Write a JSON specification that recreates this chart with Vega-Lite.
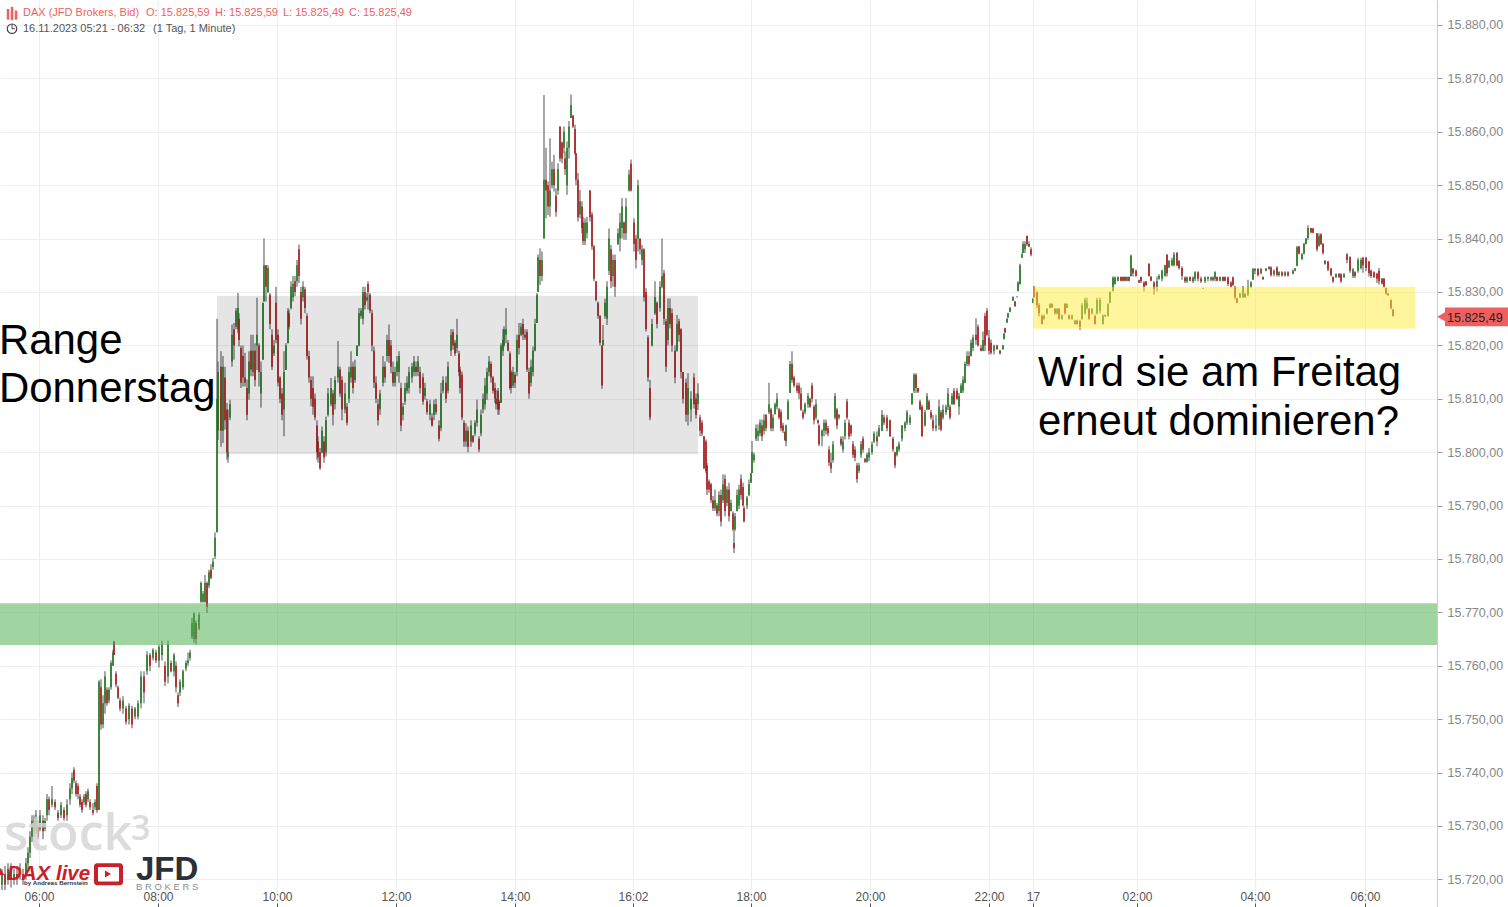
{"$schema":"https://vega.github.io/schema/vega-lite/v6.json","width":1437,"height":907,"padding":{"left":0,"top":0,"right":71,"bottom":0},"autosize":"none","background":"white","config":{"view":{"stroke":null},"font":"Liberation Sans"},
"datasets":{"bars":[
{"i":2,"o":15719,"h":15722,"l":15718,"c":15721},{"i":5,"o":15721,"h":15722.5,"l":15718,"c":15719},{"i":8,"o":15720,"h":15723,"l":15719,"c":15722},{"i":11,"o":15722,"h":15723,"l":15718.5,"c":15720},{"i":14,"o":15720,"h":15722,"l":15719,"c":15721},{"i":17,"o":15721,"h":15722.5,"l":15719,"c":15720},{"i":20,"o":15721,"h":15723,"l":15720,"c":15722},{"i":23,"o":15721,"h":15722,"l":15719,"c":15720},{"i":26,"o":15721,"h":15724,"l":15720,"c":15723},{"i":28,"o":15723,"h":15726,"l":15722,"c":15725},{"i":30,"o":15725,"h":15729,"l":15724,"c":15728},{"i":32,"o":15728,"h":15732,"l":15727,"c":15731},{"i":34,"o":15731,"h":15732,"l":15728,"c":15729},{"i":36,"o":15729,"h":15733,"l":15728.5,"c":15732},{"i":38,"o":15730,"h":15731,"l":15727.5,"c":15728},{"i":40,"o":15729.5,"h":15733,"l":15729,"c":15732},{"i":43,"o":15731,"h":15732,"l":15727.5,"c":15729},{"i":45,"o":15729.5,"h":15731.5,"l":15729,"c":15731},{"i":47,"o":15732,"h":15736,"l":15731,"c":15735},{"i":49,"o":15735,"h":15735.5,"l":15732,"c":15733},{"i":52,"o":15734,"h":15737.5,"l":15733.5,"c":15735},{"i":55,"o":15734.5,"h":15735,"l":15733,"c":15733.5},{"i":58,"o":15732.5,"h":15733,"l":15731,"c":15731.5},{"i":61,"o":15732,"h":15734.5,"l":15731.5,"c":15734},{"i":64,"o":15733,"h":15733.5,"l":15731,"c":15731.5},{"i":67,"o":15732,"h":15735,"l":15731,"c":15734},{"i":70,"o":15735,"h":15738,"l":15734,"c":15737},{"i":72,"o":15737,"h":15740,"l":15736,"c":15739},{"i":74,"o":15740.5,"h":15741,"l":15738,"c":15738.5},{"i":76,"o":15738,"h":15738.5,"l":15735.5,"c":15736},{"i":78,"o":15737.5,"h":15738,"l":15735,"c":15736},{"i":80,"o":15735.5,"h":15736,"l":15733.5,"c":15734},{"i":82,"o":15734.5,"h":15735,"l":15732.5,"c":15733},{"i":84,"o":15734.5,"h":15736,"l":15734,"c":15735.5},{"i":86,"o":15736,"h":15736.5,"l":15733.5,"c":15734},{"i":88,"o":15735,"h":15737,"l":15734.5,"c":15736.5},{"i":90,"o":15734.5,"h":15735,"l":15733,"c":15733.5},{"i":93,"o":15733,"h":15734.3,"l":15732,"c":15732.5},{"i":95,"o":15733.5,"h":15735,"l":15733,"c":15734.5},{"i":97,"o":15737.5,"h":15738,"l":15732.5,"c":15733},{"i":99,"o":15733,"h":15757.3,"l":15733,"c":15757},
{"i":101,"o":15756,"h":15757.5,"l":15748,"c":15749},{"i":103,"o":15749,"h":15754.5,"l":15748.3,"c":15753},{"i":105,"o":15753,"h":15759,"l":15751,"c":15758},{"i":107,"o":15755.5,"h":15756,"l":15752.5,"c":15753},{"i":109,"o":15753.5,"h":15756,"l":15753,"c":15755.5},{"i":111,"o":15756,"h":15761,"l":15755.5,"c":15760.5},{"i":113,"o":15760,"h":15763,"l":15760,"c":15762.5},{"i":114,"o":15764.5,"h":15764.7,"l":15762,"c":15762},{"i":116,"o":15758.5,"h":15759,"l":15756,"c":15756.5},{"i":118,"o":15756,"h":15756.3,"l":15753.8,"c":15754},{"i":120,"o":15753.5,"h":15754,"l":15751.5,"c":15752},{"i":123,"o":15752,"h":15754.3,"l":15751,"c":15753.5},{"i":126,"o":15752,"h":15752.5,"l":15749,"c":15749.5},{"i":129,"o":15750,"h":15753,"l":15749,"c":15752.5},{"i":132,"o":15752,"h":15752.5,"l":15748.3,"c":15749},{"i":135,"o":15750.5,"h":15752.3,"l":15750,"c":15752},{"i":138,"o":15750.5,"h":15753.5,"l":15750,"c":15753},{"i":141,"o":15753,"h":15759,"l":15752,"c":15758},{"i":144,"o":15758,"h":15759,"l":15753,"c":15755},{"i":147,"o":15759,"h":15762.7,"l":15758.3,"c":15762},{"i":150,"o":15762,"h":15762.4,"l":15759,"c":15760},{"i":153,"o":15761.5,"h":15763.3,"l":15761,"c":15763},{"i":156,"o":15762.5,"h":15763,"l":15760.5,"c":15761},{"i":159,"o":15761,"h":15764,"l":15759.7,"c":15763.5},{"i":162,"o":15762,"h":15764.7,"l":15761,"c":15764},{"i":165,"o":15760,"h":15760.8,"l":15756.2,"c":15757},{"i":168,"o":15758,"h":15764.7,"l":15756.7,"c":15764},{"i":171,"o":15760.5,"h":15761,"l":15758.8,"c":15759},{"i":174,"o":15759,"h":15762.4,"l":15758,"c":15762},{"i":176,"o":15760,"h":15760.8,"l":15755,"c":15756},{"i":178,"o":15754.5,"h":15755,"l":15752.3,"c":15753},{"i":180,"o":15755,"h":15757.5,"l":15754.3,"c":15757},{"i":183,"o":15756,"h":15759.3,"l":15755.5,"c":15759},{"i":186,"o":15759.5,"h":15761,"l":15759,"c":15760.5},{"i":188,"o":15760.5,"h":15762.5,"l":15760,"c":15761},{"i":190,"o":15761.5,"h":15763,"l":15761,"c":15762.5},{"i":192,"o":15765.5,"h":15769,"l":15765,"c":15768},{"i":194,"o":15765,"h":15770,"l":15764.3,"c":15769.8},{"i":196,"o":15768,"h":15768.5,"l":15764,"c":15765},{"i":199,"o":15767,"h":15770,"l":15766.7,"c":15769.5},{"i":201,"o":15772,"h":15775.8,"l":15771.8,"c":15775.5},{"i":203,"o":15772,"h":15774,"l":15771.8,"c":15773.5},{"i":205,"o":15772,"h":15777,"l":15771.8,"c":15775.5},{"i":207,"o":15775.5,"h":15775.8,"l":15769.9,"c":15771},{"i":209,"o":15775,"h":15778,"l":15774.5,"c":15777.5},{"i":211,"o":15778,"h":15779,"l":15776.2,"c":15776.5},{"i":213,"o":15778.5,"h":15780.2,"l":15778,"c":15779.5},{"i":215,"o":15780.5,"h":15785,"l":15780,"c":15784},{"i":217,"o":15785,"h":15825,"l":15785,"c":15810},
{"i":218,"o":15804,"h":15817,"l":15802.3,"c":15815},{"i":221,"o":15816,"h":15818.9,"l":15801,"c":15804},{"i":223,"o":15804,"h":15818,"l":15801.7,"c":15816},{"i":225,"o":15814,"h":15816,"l":15804.2,"c":15806},{"i":227,"o":15808,"h":15809.2,"l":15798.6,"c":15800},{"i":228,"o":15799,"h":15808,"l":15798,"c":15800},{"i":230,"o":15806.5,"h":15809.8,"l":15806,"c":15809},{"i":232,"o":15817,"h":15823.9,"l":15816,"c":15822},{"i":234,"o":15823,"h":15824.2,"l":15817.3,"c":15820},{"i":236,"o":15823.5,"h":15827,"l":15823,"c":15826.5},{"i":238,"o":15823,"h":15829.8,"l":15822.3,"c":15827},{"i":239,"o":15825,"h":15826,"l":15819.8,"c":15821},{"i":241,"o":15819.5,"h":15820,"l":15812,"c":15813},{"i":243,"o":15818,"h":15820,"l":15812.3,"c":15814},{"i":245,"o":15814,"h":15818.6,"l":15812.3,"c":15813},{"i":247,"o":15812,"h":15813.6,"l":15806,"c":15807},{"i":249,"o":15811,"h":15818.9,"l":15809.8,"c":15817},{"i":251,"o":15819,"h":15822,"l":15814.2,"c":15815.5},{"i":253,"o":15815,"h":15822,"l":15814.2,"c":15819},{"i":255,"o":15819,"h":15820.4,"l":15812.3,"c":15813.5},{"i":257,"o":15820,"h":15828.9,"l":15815.4,"c":15822},{"i":259,"o":15820,"h":15820.4,"l":15812.3,"c":15815},{"i":261,"o":15811,"h":15817,"l":15808.3,"c":15815},{"i":263,"o":15817.3,"h":15828,"l":15817.3,"c":15828},{"i":264,"o":15828.2,"h":15840,"l":15828.2,"c":15835},{"i":266,"o":15835,"h":15835,"l":15828.2,"c":15831},{"i":268,"o":15830,"h":15835,"l":15829.8,"c":15834.5},{"i":270,"o":15829.5,"h":15829.8,"l":15823,"c":15824},{"i":272,"o":15822,"h":15823,"l":15815.4,"c":15816},{"i":274,"o":15818.5,"h":15821,"l":15818,"c":15820},{"i":276,"o":15828,"h":15831,"l":15820.4,"c":15821},{"i":278,"o":15822,"h":15823,"l":15812.3,"c":15813},{"i":280,"o":15814,"h":15814.2,"l":15809.2,"c":15810},{"i":282,"o":15811,"h":15812,"l":15806,"c":15807},{"i":284,"o":15808,"h":15818.9,"l":15803,"c":15815},{"i":286,"o":15815.4,"h":15820.4,"l":15815.4,"c":15820},{"i":288,"o":15820.4,"h":15827,"l":15820.4,"c":15826.5},{"i":289,"o":15826,"h":15826.7,"l":15823,"c":15823.5},{"i":291,"o":15827,"h":15832,"l":15826.7,"c":15831},{"i":293,"o":15829,"h":15833,"l":15828.2,"c":15831.5},{"i":295,"o":15832,"h":15833,"l":15829.2,"c":15830},{"i":297,"o":15832,"h":15836,"l":15831,"c":15835},{"i":299,"o":15838,"h":15838.9,"l":15831.7,"c":15833},{"i":301,"o":15830,"h":15831,"l":15823.9,"c":15825},{"i":303,"o":15829,"h":15832,"l":15828.2,"c":15831},{"i":305,"o":15830.5,"h":15831,"l":15826,"c":15827},{"i":307,"o":15825.5,"h":15826,"l":15817.3,"c":15818},{"i":309,"o":15818,"h":15819,"l":15813,"c":15814},{"i":311,"o":15813.5,"h":15814.2,"l":15808.6,"c":15810},{"i":313,"o":15812,"h":15814.2,"l":15807,"c":15808.5},{"i":315,"o":15810,"h":15811,"l":15806,"c":15806.5},{"i":317,"o":15805,"h":15806,"l":15798.6,"c":15800},{"i":318,"o":15802,"h":15803,"l":15798,"c":15799},{"i":320,"o":15800,"h":15800.8,"l":15796.7,"c":15797},{"i":322,"o":15800,"h":15804.8,"l":15799.8,"c":15804},{"i":324,"o":15802,"h":15803,"l":15798,"c":15799},{"i":326,"o":15800,"h":15806.7,"l":15799.2,"c":15806},{"i":328,"o":15807,"h":15812,"l":15806.7,"c":15811},{"i":331,"o":15809,"h":15813.9,"l":15808.6,"c":15812},{"i":333,"o":15811,"h":15811.7,"l":15805,"c":15807},{"i":335,"o":15809,"h":15814.2,"l":15808,"c":15813.5},{"i":338,"o":15814,"h":15820.8,"l":15813,"c":15816},{"i":340,"o":15815.5,"h":15816,"l":15810.4,"c":15811},{"i":342,"o":15813.5,"h":15814.2,"l":15806,"c":15808},{"i":345,"o":15808,"h":15813,"l":15807.3,"c":15811},{"i":347,"o":15808.5,"h":15809.2,"l":15805,"c":15805.5},{"i":349,"o":15810,"h":15816,"l":15809.2,"c":15815},{"i":351,"o":15814,"h":15818.9,"l":15813,"c":15816},{"i":353,"o":15816,"h":15817,"l":15811,"c":15812},{"i":355,"o":15813.5,"h":15817.3,"l":15813,"c":15816},{"i":357,"o":15818,"h":15820,"l":15818,"c":15820},{"i":359,"o":15820,"h":15827,"l":15819.8,"c":15826},{"i":361,"o":15825.5,"h":15827,"l":15825,"c":15826.5},{"i":363,"o":15825,"h":15831,"l":15823.9,"c":15830},{"i":365,"o":15830,"h":15831,"l":15826.7,"c":15827.5},{"i":367,"o":15828.5,"h":15829.8,"l":15828.2,"c":15829},{"i":368,"o":15831.5,"h":15832,"l":15826.7,"c":15830},{"i":370,"o":15829.5,"h":15829.8,"l":15826,"c":15826.5},{"i":372,"o":15826,"h":15826.7,"l":15818.9,"c":15820},{"i":374,"o":15819,"h":15819.8,"l":15812,"c":15813},{"i":376,"o":15813,"h":15814.2,"l":15809.2,"c":15810},{"i":378,"o":15809,"h":15810,"l":15805,"c":15806},{"i":380,"o":15808,"h":15811.7,"l":15807,"c":15811},{"i":383,"o":15813,"h":15818,"l":15812.3,"c":15816},{"i":385,"o":15816,"h":15817,"l":15813,"c":15814},{"i":387,"o":15818,"h":15822,"l":15817,"c":15821},{"i":389,"o":15821,"h":15823.9,"l":15816.7,"c":15818},{"i":391,"o":15820,"h":15821,"l":15814.8,"c":15816},{"i":393,"o":15815,"h":15817,"l":15812.3,"c":15813},{"i":395,"o":15813,"h":15816,"l":15812.3,"c":15815},{"i":397,"o":15815,"h":15818,"l":15814.2,"c":15817},{"i":399,"o":15815,"h":15818.9,"l":15813,"c":15818},{"i":401,"o":15812,"h":15813,"l":15803.9,"c":15805},{"i":403,"o":15807,"h":15809.2,"l":15806,"c":15808.5},{"i":405,"o":15809.5,"h":15813,"l":15808.9,"c":15812},{"i":407,"o":15811.5,"h":15814.2,"l":15811,"c":15813},{"i":409,"o":15812,"h":15816,"l":15811,"c":15815},{"i":412,"o":15814,"h":15816.7,"l":15813,"c":15816},{"i":414,"o":15815,"h":15818,"l":15814.2,"c":15817},{"i":416,"o":15816,"h":15817,"l":15814.2,"c":15815},{"i":418,"o":15815,"h":15818,"l":15814.2,"c":15817},{"i":420,"o":15815,"h":15816,"l":15811,"c":15812},{"i":423,"o":15814,"h":15814.8,"l":15808.9,"c":15809.5},{"i":425,"o":15810.5,"h":15813,"l":15809.8,"c":15812},{"i":427,"o":15809.5,"h":15810,"l":15807,"c":15807.5},{"i":430,"o":15807,"h":15809.8,"l":15806,"c":15809},{"i":432,"o":15806.5,"h":15807.3,"l":15804.8,"c":15805},{"i":434,"o":15807,"h":15809.8,"l":15806,"c":15809},{"i":436,"o":15809,"h":15810,"l":15807,"c":15807.5},{"i":439,"o":15805,"h":15806,"l":15802,"c":15802.5},{"i":441,"o":15804.5,"h":15813,"l":15803.9,"c":15811},{"i":443,"o":15811.5,"h":15814.2,"l":15811,"c":15813.5},{"i":446,"o":15813,"h":15814.2,"l":15809.2,"c":15810},{"i":448,"o":15811.5,"h":15817,"l":15811,"c":15816},{"i":451,"o":15819,"h":15823,"l":15818,"c":15822},{"i":453,"o":15822.5,"h":15823,"l":15819.2,"c":15820},{"i":455,"o":15820.5,"h":15821,"l":15818,"c":15818.5},{"i":457,"o":15819.5,"h":15825,"l":15818.6,"c":15822},{"i":459,"o":15818.5,"h":15819,"l":15814.2,"c":15815},
{"i":460,"o":15815.5,"h":15816,"l":15811,"c":15812},{"i":462,"o":15814.5,"h":15815.1,"l":15806,"c":15806.5},{"i":464,"o":15805.5,"h":15806,"l":15801,"c":15802},{"i":466,"o":15802,"h":15805.4,"l":15801,"c":15804},{"i":468,"o":15804,"h":15804.8,"l":15800,"c":15801},{"i":471,"o":15802,"h":15806,"l":15801,"c":15805},{"i":473,"o":15803,"h":15803.2,"l":15801.7,"c":15802},{"i":475,"o":15803.5,"h":15806,"l":15803,"c":15805.5},{"i":477,"o":15805.5,"h":15809.8,"l":15804.8,"c":15808},{"i":479,"o":15802.5,"h":15803,"l":15800,"c":15800.5},{"i":481,"o":15803.5,"h":15808,"l":15803,"c":15807},{"i":483,"o":15808,"h":15811,"l":15807.3,"c":15810},{"i":485,"o":15809,"h":15813.9,"l":15808,"c":15812.5},{"i":487,"o":15811,"h":15815.8,"l":15809.8,"c":15815},{"i":489,"o":15815,"h":15818,"l":15814.2,"c":15817},{"i":491,"o":15816.5,"h":15817,"l":15813,"c":15814},{"i":493,"o":15814,"h":15814.2,"l":15811,"c":15811.5},{"i":495,"o":15812,"h":15813,"l":15809.2,"c":15810},{"i":496,"o":15810,"h":15811.7,"l":15808,"c":15809},{"i":498,"o":15811.5,"h":15812,"l":15807,"c":15808},{"i":499,"o":15809.5,"h":15809.8,"l":15807,"c":15808},{"i":501,"o":15809.2,"h":15820.4,"l":15809.2,"c":15820},{"i":503,"o":15819,"h":15823,"l":15818,"c":15821},{"i":504,"o":15820,"h":15823.6,"l":15819.8,"c":15823},{"i":506,"o":15822,"h":15827,"l":15820.4,"c":15823},{"i":508,"o":15820.5,"h":15821,"l":15818.9,"c":15819},{"i":510,"o":15818.5,"h":15818.9,"l":15811.7,"c":15812},{"i":511,"o":15815,"h":15815.4,"l":15811,"c":15812},{"i":513,"o":15812.5,"h":15816,"l":15812,"c":15815},{"i":515,"o":15814.5,"h":15815,"l":15812,"c":15813},{"i":517,"o":15815,"h":15822,"l":15814.2,"c":15821},{"i":519,"o":15822,"h":15824.2,"l":15818.3,"c":15819.5},{"i":521,"o":15822,"h":15824.2,"l":15821.7,"c":15823.5},{"i":523,"o":15824,"h":15825,"l":15821,"c":15822},{"i":525,"o":15822,"h":15823,"l":15821,"c":15821.5},{"i":527,"o":15822.5,"h":15823,"l":15815,"c":15815.5},{"i":529,"o":15815,"h":15815.8,"l":15810,"c":15811},{"i":531,"o":15813,"h":15817.3,"l":15812.3,"c":15816},{"i":533,"o":15815,"h":15819.8,"l":15814.2,"c":15819},{"i":535,"o":15819,"h":15825,"l":15818.9,"c":15824},{"i":537,"o":15824.2,"h":15829.8,"l":15824.2,"c":15829.5},
{"i":538,"o":15830,"h":15837,"l":15830,"c":15836.5},{"i":540,"o":15836,"h":15838.2,"l":15831.3,"c":15833},{"i":542,"o":15833,"h":15837.6,"l":15832,"c":15836},{"i":544,"o":15840,"h":15866.9,"l":15840,"c":15851},{"i":546,"o":15851,"h":15857,"l":15843.8,"c":15849},{"i":548,"o":15850,"h":15850.7,"l":15844.4,"c":15846},{"i":550,"o":15846,"h":15858.8,"l":15844.1,"c":15849},{"i":552,"o":15850,"h":15854.4,"l":15849.4,"c":15853},{"i":554,"o":15853,"h":15855.7,"l":15848.8,"c":15850},{"i":556,"o":15848,"h":15849.4,"l":15844.1,"c":15845},{"i":558,"o":15849,"h":15854.1,"l":15848.2,"c":15853},{"i":560,"o":15861,"h":15861,"l":15854.4,"c":15855},{"i":562,"o":15858,"h":15858.2,"l":15854.1,"c":15855},{"i":564,"o":15857,"h":15861,"l":15856,"c":15860},{"i":565,"o":15855,"h":15856.3,"l":15851.9,"c":15853},{"i":567,"o":15850,"h":15858.2,"l":15848.2,"c":15857},{"i":569,"o":15857,"h":15862,"l":15855,"c":15861},{"i":571,"o":15862.6,"h":15867,"l":15862.6,"c":15865},{"i":573,"o":15863,"h":15863.2,"l":15860.7,"c":15861},{"i":575,"o":15860.5,"h":15861.3,"l":15855.7,"c":15856},{"i":576,"o":15856,"h":15856,"l":15850,"c":15851},{"i":578,"o":15851,"h":15852.3,"l":15843.2,"c":15844},{"i":580,"o":15844.5,"h":15849.1,"l":15843.8,"c":15847},{"i":582,"o":15846,"h":15847,"l":15841,"c":15842},{"i":583,"o":15843,"h":15844.1,"l":15838.8,"c":15839.5},{"i":585,"o":15839.5,"h":15843.8,"l":15838.8,"c":15843},{"i":587,"o":15841,"h":15844.1,"l":15840,"c":15843},{"i":590,"o":15849,"h":15849.1,"l":15843.2,"c":15844},{"i":592,"o":15844.5,"h":15845,"l":15837.9,"c":15838.5},{"i":594,"o":15838.5,"h":15838.8,"l":15832,"c":15832.5},{"i":596,"o":15832,"h":15832,"l":15828.2,"c":15828.5},{"i":598,"o":15828,"h":15828.2,"l":15825,"c":15825.5},{"i":600,"o":15825.5,"h":15825.7,"l":15820,"c":15820.5},{"i":602,"o":15820,"h":15820,"l":15811.9,"c":15812.5},{"i":603,"o":15820,"h":15823.8,"l":15820,"c":15821},{"i":605,"o":15825.5,"h":15828.8,"l":15825,"c":15828},{"i":607,"o":15825,"h":15832,"l":15823.8,"c":15831},{"i":609,"o":15834,"h":15841.9,"l":15833.2,"c":15840},{"i":611,"o":15838,"h":15838.8,"l":15830.7,"c":15832},{"i":613,"o":15833,"h":15837,"l":15831,"c":15836},{"i":615,"o":15836,"h":15837,"l":15829.1,"c":15831},{"i":618,"o":15839,"h":15841.9,"l":15838.8,"c":15841},{"i":620,"o":15840,"h":15844.8,"l":15837.6,"c":15843},{"i":622,"o":15842,"h":15847.6,"l":15840,"c":15846},{"i":624,"o":15843,"h":15843.2,"l":15839.8,"c":15841},{"i":626,"o":15841,"h":15847.6,"l":15839.8,"c":15846},{"i":629,"o":15849,"h":15852.9,"l":15848.8,"c":15852},{"i":631,"o":15854,"h":15854.8,"l":15848.8,"c":15849},{"i":634,"o":15843,"h":15843.8,"l":15837.6,"c":15839},{"i":636,"o":15840,"h":15840.7,"l":15834.4,"c":15836},{"i":638,"o":15840,"h":15851,"l":15837.6,"c":15850},{"i":640,"o":15840,"h":15840,"l":15837,"c":15838},{"i":642,"o":15836,"h":15838.8,"l":15835,"c":15838},{"i":644,"o":15838,"h":15838.2,"l":15828.2,"c":15829},{"i":646,"o":15830,"h":15830.7,"l":15822.6,"c":15823},{"i":648,"o":15821.5,"h":15821.9,"l":15813.2,"c":15814},{"i":650,"o":15812,"h":15813.5,"l":15806,"c":15806.5},{"i":652,"o":15820,"h":15825,"l":15819.8,"c":15824},{"i":655,"o":15826,"h":15832,"l":15825.7,"c":15829},{"i":657,"o":15828,"h":15828.2,"l":15823.2,"c":15824},{"i":660,"o":15827,"h":15832,"l":15826.3,"c":15831},{"i":662,"o":15831,"h":15840,"l":15830.7,"c":15833},{"i":664,"o":15833.5,"h":15834.1,"l":15823.8,"c":15825},{"i":666,"o":15824.5,"h":15825,"l":15815,"c":15816},{"i":668,"o":15821,"h":15828.8,"l":15820,"c":15827},{"i":670,"o":15827,"h":15828.8,"l":15823.2,"c":15824},{"i":672,"o":15826,"h":15826.9,"l":15818.8,"c":15820},{"i":675,"o":15819,"h":15820,"l":15812.9,"c":15814},{"i":677,"o":15819,"h":15825.7,"l":15818.8,"c":15824},{"i":679,"o":15824.5,"h":15825,"l":15820.7,"c":15822},{"i":681,"o":15823,"h":15823.2,"l":15813.8,"c":15815},{"i":683,"o":15815,"h":15815,"l":15809.1,"c":15810},{"i":686,"o":15813,"h":15813.8,"l":15805.7,"c":15807},{"i":688,"o":15807,"h":15814.8,"l":15805,"c":15812},{"i":691,"o":15808,"h":15811.4,"l":15805.7,"c":15810},{"i":694,"o":15814,"h":15814.8,"l":15808.2,"c":15809},{"i":696,"o":15810,"h":15811,"l":15806.3,"c":15807},{"i":698,"o":15809,"h":15812.9,"l":15807.9,"c":15811},
{"i":700,"o":15806.5,"h":15807,"l":15803,"c":15804},{"i":702,"o":15805.5,"h":15806,"l":15803,"c":15803.5},{"i":704,"o":15803,"h":15803,"l":15796.8,"c":15797},{"i":706,"o":15802,"h":15802.4,"l":15796.1,"c":15796.5},{"i":707,"o":15797.5,"h":15798,"l":15792,"c":15793},{"i":709,"o":15794.5,"h":15794.9,"l":15792.4,"c":15793},{"i":711,"o":15794,"h":15794.3,"l":15790.5,"c":15791},{"i":713,"o":15791,"h":15791.8,"l":15789,"c":15789.5},{"i":715,"o":15789.5,"h":15793,"l":15789,"c":15791},{"i":717,"o":15790,"h":15790.5,"l":15788,"c":15788.5},{"i":719,"o":15789,"h":15792.7,"l":15788,"c":15792},{"i":721,"o":15792,"h":15793,"l":15786.1,"c":15787},{"i":723,"o":15791,"h":15795.8,"l":15790.5,"c":15794},{"i":725,"o":15795,"h":15795.8,"l":15788,"c":15789},{"i":727,"o":15790.5,"h":15793.6,"l":15789.9,"c":15793},{"i":729,"o":15793,"h":15794.3,"l":15787,"c":15788},{"i":731,"o":15789,"h":15791.1,"l":15788.9,"c":15790.5},{"i":733,"o":15788.5,"h":15788.9,"l":15785.2,"c":15785.5},{"i":734,"o":15783,"h":15785.2,"l":15781.1,"c":15782},{"i":735,"o":15785.5,"h":15788.6,"l":15785.2,"c":15788},{"i":737,"o":15789,"h":15793,"l":15788.9,"c":15792},{"i":739,"o":15790,"h":15793.9,"l":15789.3,"c":15793},{"i":741,"o":15795,"h":15795.8,"l":15791.1,"c":15792},{"i":743,"o":15793.5,"h":15794.3,"l":15789.9,"c":15790},{"i":744,"o":15789.5,"h":15789.9,"l":15786.9,"c":15787},{"i":747,"o":15790,"h":15791.8,"l":15789.3,"c":15791.5},{"i":749,"o":15792,"h":15794.9,"l":15791.8,"c":15794},{"i":751,"o":15794.3,"h":15796.1,"l":15794.3,"c":15796},{"i":752,"o":15796.1,"h":15802.1,"l":15796.1,"c":15800},{"i":754,"o":15798.5,"h":15799.9,"l":15798,"c":15799.5},{"i":756,"o":15802.5,"h":15805.2,"l":15802.1,"c":15804.5},{"i":758,"o":15803,"h":15805.2,"l":15802.1,"c":15804},{"i":760,"o":15803.5,"h":15806.1,"l":15803,"c":15805.5},{"i":762,"o":15805,"h":15806.1,"l":15802.1,"c":15803},{"i":764,"o":15804,"h":15807.1,"l":15803.3,"c":15806},{"i":766,"o":15807,"h":15807.1,"l":15803.9,"c":15804.5},{"i":769,"o":15807.5,"h":15813,"l":15807.1,"c":15809},{"i":771,"o":15808,"h":15808.3,"l":15803.9,"c":15804.5},{"i":773,"o":15804.5,"h":15807.1,"l":15803.9,"c":15806.5},{"i":775,"o":15807.1,"h":15809.3,"l":15807.1,"c":15809},{"i":777,"o":15808.5,"h":15811.1,"l":15808,"c":15810},{"i":779,"o":15808,"h":15808.3,"l":15806.1,"c":15806.5},{"i":781,"o":15807.5,"h":15808,"l":15803.9,"c":15804.5},{"i":783,"o":15805,"h":15805.5,"l":15803.6,"c":15804},{"i":785,"o":15803.8,"h":15803.9,"l":15802.1,"c":15802.3},{"i":786,"o":15802,"h":15805.2,"l":15801.1,"c":15805},{"i":788,"o":15806.1,"h":15809.9,"l":15806.1,"c":15809.5},{"i":790,"o":15811.1,"h":15817.1,"l":15811.1,"c":15816.5},{"i":792,"o":15816.5,"h":15818.9,"l":15813,"c":15813.5},{"i":794,"o":15814,"h":15814.3,"l":15812.1,"c":15812.5},{"i":797,"o":15812.5,"h":15813,"l":15811.1,"c":15811.5},{"i":799,"o":15812.5,"h":15813,"l":15809.9,"c":15811},{"i":801,"o":15811,"h":15812.1,"l":15807.7,"c":15808},{"i":803,"o":15807.5,"h":15808,"l":15806.1,"c":15806.5},{"i":805,"o":15807.5,"h":15809.3,"l":15807.1,"c":15809},{"i":808,"o":15809,"h":15811.1,"l":15808.3,"c":15810.5},{"i":810,"o":15810,"h":15810.2,"l":15808.3,"c":15808.5},{"i":812,"o":15812.5,"h":15813,"l":15809.3,"c":15810},{"i":814,"o":15808.5,"h":15808.9,"l":15805.2,"c":15806},{"i":816,"o":15806.5,"h":15809.9,"l":15806.1,"c":15809},{"i":818,"o":15806,"h":15806.1,"l":15805.2,"c":15805.5},{"i":819,"o":15805,"h":15805.2,"l":15801.1,"c":15801.5},{"i":822,"o":15803,"h":15804.3,"l":15801.1,"c":15804},{"i":824,"o":15804,"h":15806.1,"l":15803,"c":15805.5},{"i":826,"o":15805.5,"h":15806.1,"l":15803.3,"c":15804},{"i":828,"o":15804.5,"h":15804.9,"l":15803,"c":15803.5},{"i":829,"o":15800.5,"h":15801.1,"l":15797.4,"c":15798},{"i":831,"o":15798,"h":15799.9,"l":15796.1,"c":15797},{"i":833,"o":15798.5,"h":15802.1,"l":15798,"c":15801.5},{"i":835,"o":15806.5,"h":15811.1,"l":15806.1,"c":15810.5},{"i":837,"o":15808,"h":15808.3,"l":15804.3,"c":15805},{"i":839,"o":15806.5,"h":15807.1,"l":15806.1,"c":15807},{"i":841,"o":15802.5,"h":15803,"l":15801.1,"c":15801.5},{"i":843,"o":15800.5,"h":15803,"l":15799.9,"c":15802},{"i":845,"o":15803,"h":15806.1,"l":15802.4,"c":15805.5},{"i":847,"o":15809.5,"h":15810,"l":15806.1,"c":15806.5},{"i":849,"o":15805.5,"h":15806.1,"l":15802.4,"c":15803},{"i":851,"o":15805,"h":15805.2,"l":15803,"c":15803.5},{"i":853,"o":15801.5,"h":15802.1,"l":15798.9,"c":15799.5},{"i":855,"o":15800.5,"h":15801.1,"l":15798.3,"c":15799},{"i":857,"o":15797.5,"h":15798,"l":15794.3,"c":15795},{"i":859,"o":15796.5,"h":15798,"l":15796.1,"c":15797.5},{"i":861,"o":15799.5,"h":15802.1,"l":15798.9,"c":15801.5},{"i":863,"o":15802.5,"h":15803,"l":15799.9,"c":15800.5},{"i":865,"o":15798.7,"h":15798.9,"l":15798,"c":15798.2},{"i":867,"o":15798.2,"h":15799.9,"l":15798,"c":15799.5},{"i":869,"o":15799,"h":15800.8,"l":15798.3,"c":15800},
{"i":872,"o":15800,"h":15802,"l":15799.5,"c":15801.5},{"i":874,"o":15802,"h":15803.9,"l":15801.7,"c":15803.5},{"i":877,"o":15803,"h":15803.9,"l":15801.1,"c":15802},{"i":879,"o":15803,"h":15805.1,"l":15802.9,"c":15804.5},{"i":882,"o":15804,"h":15807.9,"l":15803.9,"c":15807},{"i":884,"o":15806.5,"h":15807,"l":15805.1,"c":15805.5},{"i":887,"o":15806.5,"h":15807,"l":15803.9,"c":15804.5},{"i":890,"o":15806,"h":15806.1,"l":15802.9,"c":15803},{"i":893,"o":15802.5,"h":15802.9,"l":15800.1,"c":15800.5},{"i":895,"o":15800,"h":15800.1,"l":15797,"c":15797.5},{"i":897,"o":15799.5,"h":15801.1,"l":15799.2,"c":15801},{"i":899,"o":15800.5,"h":15802,"l":15800.1,"c":15801.5},{"i":902,"o":15802.5,"h":15805.1,"l":15802,"c":15805},{"i":905,"o":15804.5,"h":15805.8,"l":15803.9,"c":15805.5},{"i":907,"o":15805.5,"h":15807.9,"l":15805.1,"c":15807.5},{"i":910,"o":15805.5,"h":15807,"l":15805.1,"c":15806.5},{"i":912,"o":15809,"h":15811.1,"l":15808.9,"c":15811},{"i":914,"o":15811.5,"h":15814.8,"l":15811.1,"c":15814.5},{"i":916,"o":15814.5,"h":15814.8,"l":15811.1,"c":15812},{"i":918,"o":15812,"h":15812,"l":15811.1,"c":15811.3},{"i":920,"o":15809.5,"h":15809.8,"l":15807.9,"c":15808},{"i":922,"o":15808.5,"h":15808.9,"l":15802.9,"c":15803},{"i":925,"o":15805,"h":15807.9,"l":15804.8,"c":15807.5},{"i":927,"o":15808,"h":15811.1,"l":15807.9,"c":15810.5},{"i":929,"o":15809.5,"h":15809.8,"l":15807.9,"c":15808},{"i":931,"o":15807.5,"h":15807.9,"l":15806.1,"c":15806.5},{"i":933,"o":15806,"h":15807,"l":15803.9,"c":15804.5},{"i":936,"o":15804.5,"h":15807,"l":15803.9,"c":15805},{"i":939,"o":15805,"h":15809.8,"l":15804.2,"c":15808.5},{"i":941,"o":15807.5,"h":15807.9,"l":15803.9,"c":15804.2},{"i":943,"o":15806.5,"h":15808.9,"l":15806.1,"c":15808},{"i":946,"o":15807.5,"h":15808.9,"l":15807,"c":15808.5},{"i":948,"o":15808.5,"h":15812,"l":15807.9,"c":15811},{"i":950,"o":15808.5,"h":15808.9,"l":15806.1,"c":15806.5},{"i":952,"o":15809,"h":15811.1,"l":15808.9,"c":15810.5},{"i":954,"o":15811.5,"h":15812,"l":15808.9,"c":15809},{"i":957,"o":15811.5,"h":15812,"l":15809.8,"c":15810},{"i":959,"o":15808.5,"h":15811.1,"l":15807,"c":15810.5},{"i":961,"o":15811.1,"h":15812.9,"l":15811.1,"c":15812.5},{"i":963,"o":15811.5,"h":15814.2,"l":15811.1,"c":15813.5},{"i":965,"o":15813,"h":15817,"l":15812.9,"c":15816.5},{"i":967,"o":15816.5,"h":15818.9,"l":15816.1,"c":15818},{"i":969,"o":15818,"h":15818.9,"l":15816.1,"c":15816.5},{"i":971,"o":15818,"h":15821.1,"l":15817.9,"c":15820.5},{"i":973,"o":15819.5,"h":15822,"l":15818.9,"c":15821.5},{"i":976,"o":15822,"h":15825.1,"l":15820.1,"c":15821},{"i":978,"o":15823.5,"h":15823.9,"l":15819.8,"c":15820},{"i":981,"o":15819.5,"h":15820.1,"l":15818.9,"c":15819},{"i":983,"o":15819,"h":15822.6,"l":15818.9,"c":15821},{"i":985,"o":15825.5,"h":15826.1,"l":15818.9,"c":15820},{"i":987,"o":15826.5,"h":15827,"l":15821.7,"c":15822},{"i":989,"o":15821.5,"h":15822.9,"l":15818.3,"c":15819},{"i":991,"o":15820.5,"h":15821.1,"l":15818.3,"c":15818.6},{"i":994,"o":15819,"h":15820.1,"l":15818.3,"c":15820},{"i":997,"o":15820,"h":15820.1,"l":15819.2,"c":15819.3},{"i":1000,"o":15819,"h":15819.2,"l":15818.3,"c":15818.5},{"i":1003,"o":15819.3,"h":15820.1,"l":15819.2,"c":15820},{"i":1004,"o":15821.2,"h":15822.3,"l":15821.1,"c":15822.2},{"i":1005,"o":15823.2,"h":15823.3,"l":15822.3,"c":15822.4},{"i":1007,"o":15824.3,"h":15825.1,"l":15824.2,"c":15825},{"i":1008,"o":15825.2,"h":15826.1,"l":15825.1,"c":15826},{"i":1010,"o":15826.3,"h":15827.2,"l":15826.2,"c":15827},{"i":1013,"o":15828.4,"h":15829.2,"l":15828.3,"c":15829},{"i":1015,"o":15828.2,"h":15828.3,"l":15827.2,"c":15827.4},{"i":1017,"o":15829,"h":15829.2,"l":15829,"c":15829.1},{"i":1018,"o":15830.2,"h":15832,"l":15830.1,"c":15831.8},{"i":1020,"o":15831.5,"h":15835.3,"l":15831.4,"c":15835},{"i":1022,"o":15836.4,"h":15837.3,"l":15836.4,"c":15837},{"i":1023,"o":15837.3,"h":15839.5,"l":15837.3,"c":15839},{"i":1025,"o":15838,"h":15839.5,"l":15837.3,"c":15839},{"i":1027,"o":15840.5,"h":15840.6,"l":15838.6,"c":15839},{"i":1029,"o":15839,"h":15839.5,"l":15838.4,"c":15838.5},{"i":1031,"o":15838,"h":15838.4,"l":15836.7,"c":15837},
{"i":1033,"o":15828,"h":15828.9,"l":15827.9,"c":15828.7},{"i":1034,"o":15831,"h":15831.1,"l":15828.9,"c":15829},{"i":1037,"o":15830,"h":15830.1,"l":15827,"c":15827.5},{"i":1039,"o":15827.5,"h":15827.9,"l":15825.4,"c":15826},{"i":1042,"o":15825.5,"h":15825.8,"l":15823.9,"c":15824},{"i":1044,"o":15825,"h":15825.8,"l":15824.8,"c":15825.5},{"i":1047,"o":15826,"h":15827,"l":15825.8,"c":15826.8},{"i":1050,"o":15827,"h":15827.9,"l":15827,"c":15827.7},{"i":1052,"o":15827.7,"h":15827.9,"l":15827,"c":15827.2},{"i":1055,"o":15826.8,"h":15827,"l":15825.8,"c":15826},{"i":1057,"o":15826,"h":15827,"l":15825.8,"c":15826.8},{"i":1059,"o":15826.8,"h":15827,"l":15824.8,"c":15825},{"i":1062,"o":15825,"h":15825.8,"l":15824.8,"c":15825.6},{"i":1065,"o":15827.8,"h":15827.9,"l":15825.8,"c":15826},{"i":1067,"o":15827,"h":15827.9,"l":15827,"c":15827.7},{"i":1069,"o":15825.6,"h":15825.8,"l":15824.8,"c":15825},{"i":1072,"o":15825,"h":15825.8,"l":15824.8,"c":15825.6},{"i":1075,"o":15824,"h":15824.8,"l":15823.9,"c":15824.6},{"i":1077,"o":15824.6,"h":15824.8,"l":15823.9,"c":15824},{"i":1080,"o":15824.5,"h":15824.8,"l":15822.9,"c":15823.5},{"i":1082,"o":15825,"h":15827.9,"l":15824.8,"c":15827.5},{"i":1085,"o":15826,"h":15828.9,"l":15825.8,"c":15828.5},{"i":1087,"o":15827,"h":15828.9,"l":15826.7,"c":15828},{"i":1089,"o":15826.8,"h":15827,"l":15824.8,"c":15825},{"i":1092,"o":15826,"h":15827,"l":15825.8,"c":15826.8},{"i":1095,"o":15825.5,"h":15825.8,"l":15823.9,"c":15824},{"i":1097,"o":15826,"h":15828.9,"l":15825.8,"c":15828.5},{"i":1100,"o":15826.5,"h":15828.9,"l":15826,"c":15828.5},{"i":1103,"o":15824,"h":15825.8,"l":15823.9,"c":15825.5},{"i":1105,"o":15825.4,"h":15825.8,"l":15825.4,"c":15825.7},{"i":1108,"o":15825.5,"h":15827.9,"l":15825.4,"c":15827.7},{"i":1110,"o":15828,"h":15830.1,"l":15827.9,"c":15830},{"i":1113,"o":15830.2,"h":15832.9,"l":15830.1,"c":15832.7},{"i":1115,"o":15831.5,"h":15832.9,"l":15831.4,"c":15832.7},{"i":1118,"o":15832.1,"h":15832.9,"l":15832,"c":15832.8},{"i":1121,"o":15832.8,"h":15832.9,"l":15832,"c":15832.1},{"i":1123,"o":15832.8,"h":15832.9,"l":15832,"c":15832.1},{"i":1125,"o":15832.8,"h":15832.9,"l":15832,"c":15832.1},{"i":1127,"o":15832.1,"h":15832.9,"l":15832,"c":15832.8},{"i":1129,"o":15832.8,"h":15832.9,"l":15832,"c":15832.1},{"i":1131,"o":15833,"h":15837,"l":15832.9,"c":15836.8},{"i":1133,"o":15834.4,"h":15834.5,"l":15832.9,"c":15833.5},{"i":1136,"o":15834,"h":15834.2,"l":15832.9,"c":15833},{"i":1139,"o":15832.2,"h":15832.3,"l":15831.7,"c":15831.8},{"i":1141,"o":15832.8,"h":15832.9,"l":15831.7,"c":15832},{"i":1144,"o":15831.8,"h":15832,"l":15830.1,"c":15831},{"i":1146,"o":15832,"h":15832,"l":15831.1,"c":15831.3},{"i":1149,"o":15835.3,"h":15835.4,"l":15832.9,"c":15833},{"i":1151,"o":15832.9,"h":15832.9,"l":15832,"c":15832.1},{"i":1154,"o":15831.8,"h":15832,"l":15829.5,"c":15830.5},{"i":1157,"o":15831,"h":15832.9,"l":15830.1,"c":15832},{"i":1159,"o":15832.5,"h":15833.3,"l":15832.3,"c":15833},{"i":1162,"o":15832.5,"h":15834.2,"l":15832,"c":15834},{"i":1165,"o":15833,"h":15835.1,"l":15832.9,"c":15835},{"i":1167,"o":15837,"h":15837,"l":15832.9,"c":15833.5},{"i":1169,"o":15834.6,"h":15836,"l":15834.5,"c":15835.8},{"i":1172,"o":15835,"h":15836.4,"l":15834.8,"c":15836},{"i":1174,"o":15835,"h":15837.5,"l":15834.8,"c":15837},{"i":1177,"o":15837.3,"h":15837.5,"l":15834.8,"c":15835},{"i":1179,"o":15835.8,"h":15836,"l":15834.2,"c":15834.5},{"i":1182,"o":15834.5,"h":15834.8,"l":15832.3,"c":15833},{"i":1185,"o":15832.7,"h":15832.9,"l":15831.7,"c":15832},{"i":1187,"o":15832,"h":15832.9,"l":15831.7,"c":15832.7},{"i":1190,"o":15832.8,"h":15832.9,"l":15832,"c":15832.1},{"i":1193,"o":15832,"h":15832.9,"l":15831.7,"c":15832.7},{"i":1195,"o":15832.5,"h":15833.9,"l":15832,"c":15833.7},{"i":1198,"o":15833.7,"h":15833.9,"l":15832,"c":15832.5},{"i":1201,"o":15832.5,"h":15832.9,"l":15831.7,"c":15832},{"i":1203,"o":15830.6,"h":15830.8,"l":15830.6,"c":15830.7},{"i":1205,"o":15832,"h":15832.9,"l":15831.7,"c":15832.7},{"i":1208,"o":15832.5,"h":15832.9,"l":15832,"c":15832.8},{"i":1211,"o":15832.3,"h":15832.9,"l":15832,"c":15832.7},{"i":1213,"o":15832.7,"h":15832.9,"l":15832,"c":15832.3},{"i":1215,"o":15832.5,"h":15833.9,"l":15832,"c":15833.7},{"i":1217,"o":15832.8,"h":15832.9,"l":15832,"c":15832.1},{"i":1220,"o":15832.1,"h":15832.9,"l":15832,"c":15832.8},{"i":1223,"o":15832.8,"h":15832.9,"l":15832,"c":15832.1},{"i":1225,"o":15832.8,"h":15832.9,"l":15832,"c":15832.1},{"i":1228,"o":15832.7,"h":15832.9,"l":15831.1,"c":15831.5},{"i":1231,"o":15831.8,"h":15832,"l":15830.8,"c":15831},{"i":1233,"o":15832.7,"h":15832.9,"l":15831.1,"c":15831.3},{"i":1235,"o":15831,"h":15831.1,"l":15828.6,"c":15829},{"i":1237,"o":15828.8,"h":15828.9,"l":15827.9,"c":15828},{"i":1240,"o":15828.9,"h":15829.8,"l":15828.9,"c":15829.7},{"i":1243,"o":15829,"h":15831.1,"l":15828.9,"c":15831},{"i":1245,"o":15829.6,"h":15829.8,"l":15828.9,"c":15829},{"i":1248,"o":15829.5,"h":15832.3,"l":15829.2,"c":15831},{"i":1251,"o":15831,"h":15832,"l":15830.8,"c":15831.8},{"i":1253,"o":15832.3,"h":15834.5,"l":15832.3,"c":15834.3},{"i":1255,"o":15834,"h":15834.5,"l":15833.3,"c":15834.3},{"i":1258,"o":15834.3,"h":15834.5,"l":15832.9,"c":15833.2},{"i":1261,"o":15833.5,"h":15834.5,"l":15833.3,"c":15834.3},{"i":1263,"o":15832.8,"h":15832.9,"l":15832.3,"c":15832.4},{"i":1266,"o":15834,"h":15834.5,"l":15833.9,"c":15834.4},{"i":1269,"o":15834.7,"h":15834.8,"l":15834.2,"c":15834.3},{"i":1271,"o":15834.6,"h":15834.8,"l":15832.9,"c":15833.2},{"i":1274,"o":15833.3,"h":15834.2,"l":15832.9,"c":15834},{"i":1277,"o":15834.6,"h":15834.8,"l":15832.9,"c":15833.2},{"i":1279,"o":15833.2,"h":15833.9,"l":15832.9,"c":15833.7},{"i":1282,"o":15833.7,"h":15833.9,"l":15832.9,"c":15833.1},{"i":1285,"o":15833.1,"h":15833.9,"l":15832.9,"c":15833.7},{"i":1288,"o":15833.7,"h":15833.9,"l":15832.9,"c":15833.1},{"i":1293,"o":15833.4,"h":15834.2,"l":15833.3,"c":15834},{"i":1295,"o":15834,"h":15834.5,"l":15833.9,"c":15834.4},{"i":1297,"o":15834.9,"h":15838.6,"l":15834.8,"c":15838.4},{"i":1299,"o":15838.5,"h":15838.6,"l":15837,"c":15837.2},{"i":1302,"o":15836.2,"h":15837.3,"l":15836,"c":15837},{"i":1304,"o":15837.2,"h":15839.2,"l":15837,"c":15839},{"i":1306,"o":15839,"h":15840.1,"l":15838.9,"c":15840},{"i":1308,"o":15840.1,"h":15842.5,"l":15839.8,"c":15842},{"i":1311,"o":15842,"h":15842,"l":15841,"c":15841.2},{"i":1313,"o":15841.9,"h":15842,"l":15841,"c":15841.1},{"i":1317,"o":15841,"h":15841,"l":15837.6,"c":15838},{"i":1319,"o":15838.5,"h":15841,"l":15838.8,"c":15840.5},{"i":1321,"o":15840.8,"h":15841,"l":15838.8,"c":15839},{"i":1323,"o":15839,"h":15839.2,"l":15837,"c":15837.3},{"i":1325,"o":15835.8,"h":15836,"l":15835.1,"c":15835.3},{"i":1328,"o":15835.7,"h":15835.8,"l":15833.9,"c":15834.2},{"i":1331,"o":15834.4,"h":15834.5,"l":15832.9,"c":15833.2},{"i":1333,"o":15832.8,"h":15832.9,"l":15831.7,"c":15832},{"i":1336,"o":15832.8,"h":15833.5,"l":15832.6,"c":15833.3},{"i":1339,"o":15833.4,"h":15833.5,"l":15832.6,"c":15832.8},{"i":1341,"o":15833.3,"h":15833.5,"l":15831.7,"c":15832},{"i":1344,"o":15832.8,"h":15833.5,"l":15832.6,"c":15833.3},{"i":1347,"o":15837,"h":15837.3,"l":15835.4,"c":15836},{"i":1350,"o":15836.5,"h":15836.7,"l":15833.6,"c":15834},{"i":1353,"o":15833,"h":15834.5,"l":15832.6,"c":15834.2},{"i":1355,"o":15833.7,"h":15833.9,"l":15832.6,"c":15833},{"i":1358,"o":15834,"h":15836.4,"l":15833.6,"c":15836},{"i":1361,"o":15834.5,"h":15836.4,"l":15834.2,"c":15836},{"i":1363,"o":15836.4,"h":15836.6,"l":15833.6,"c":15835},{"i":1366,"o":15836.4,"h":15836.6,"l":15833.9,"c":15834.5},{"i":1369,"o":15835.7,"h":15835.8,"l":15832.9,"c":15833.5},{"i":1371,"o":15834,"h":15834.2,"l":15832.6,"c":15833},{"i":1374,"o":15833.7,"h":15833.9,"l":15832.6,"c":15832.8},{"i":1377,"o":15833.4,"h":15833.6,"l":15831.7,"c":15832.5},{"i":1379,"o":15834,"h":15834.5,"l":15831.4,"c":15832},{"i":1382,"o":15832.5,"h":15832.6,"l":15831.4,"c":15831.6},{"i":1384,"o":15832.5,"h":15832.6,"l":15830.8,"c":15831},{"i":1386,"o":15830.7,"h":15830.8,"l":15829.5,"c":15829.7},{"i":1388,"o":15829.7,"h":15829.8,"l":15829.3,"c":15829.4},{"i":1391,"o":15828.5,"h":15828.6,"l":15826.7,"c":15827},{"i":1393,"o":15826.7,"h":15826.7,"l":15825.4,"c":15825.5}
],
"under":[{"i":217,"i2":698,"l":15799.6,"h":15829.3}],
"big":[{"i":-1,"l":15818.4,"t":"Range"},{"i":-1,"l":15809.4,"t":"Donnerstag"},{"i":1038,"l":15812.4,"t":"Wird sie am Freitag"},{"i":1038,"l":15803.2,"t":"erneut dominieren?"}],
"hdr":[{"i":23,"l":15881.6,"t":"DAX (JFD Brokers, Bid)"},{"i":146,"l":15881.6,"t":"O: 15.825,59"},{"i":215,"l":15881.6,"t":"H: 15.825,59"},{"i":283,"l":15881.6,"t":"L: 15.825,49"},{"i":349,"l":15881.6,"t":"C: 15.825,49"}],
"tag":[{"i":1445,"i2":1508,"l":15823.6,"h":15827.1}],
"tagt":[{"i":1447,"l":15824.4,"t":"15.825,49"}]},
"encoding":{"x":{"field":"i","type":"quantitative","scale":{"domain":[0,1437],"range":[0,1437],"nice":false,"zero":false},"axis":{"title":null,"orient":"bottom","values":[39,158,277,396,515,633,751,870,989,1033,1137,1255,1365],"labelExpr":"{'39':'06:00','158':'08:00','277':'10:00','396':'12:00','515':'14:00','633':'16:02','751':'18:00','870':'20:00','989':'22:00','1033':'17','1137':'02:00','1255':'04:00','1365':'06:00'}[''+datum.value]","domain":false,"grid":true,"gridColor":"#eeeeee","tickColor":"#555555","tickSize":4,"offset":-4,"labelPadding":-16,"labelColor":"#555555","labelFontSize":12,"labelFont":"Liberation Sans","labelOverlap":false,"labelFlush":false}},
"y":{"field":"l","type":"quantitative","scale":{"domain":[15714.83,15884.68],"range":[907,0],"nice":false,"zero":false},"axis":{"title":null,"orient":"right","values":[15720,15730,15740,15750,15760,15770,15780,15790,15800,15810,15820,15830,15840,15850,15860,15870,15880],"labelExpr":"'15.'+format(datum.value-15000,'d')+',00'","domainColor":"#cccccc","grid":true,"gridColor":"#eeeeee","tickColor":"#999999","tickSize":5,"labelPadding":5,"labelColor":"#888888","labelFontSize":12.5,"labelFont":"Liberation Sans"}}},
"layer":[
{"data":{"name":"bars"},"mark":{"type":"rule","color":"#777777","strokeWidth":1.3},"encoding":{"y2":{"field":"h"}}},
{"data":{"name":"bars"},"mark":{"type":"rule","strokeWidth":1.5},"encoding":{"y":{"field":"o","type":"quantitative"},"y2":{"field":"c"},"color":{"condition":{"test":"datum.c>=datum.o","value":"#1b7a1b"},"value":"#b01212"}}},
{"data":{"name":"under"},"mark":{"type":"rect","color":"#000000","opacity":0.1},"encoding":{"x2":{"field":"i2"},"y2":{"field":"h"}}},
{"data":{"values":[{"i":0,"i2":1437,"l":15763.9,"h":15771.7}]},"mark":{"type":"rect","color":"#4caf50","opacity":0.53},"encoding":{"x2":{"field":"i2"},"y2":{"field":"h"}}},
{"data":{"values":[{"i":1033,"i2":1415,"l":15823.1,"h":15831}]},"mark":{"type":"rect","color":"#ffeb3b","opacity":0.5},"encoding":{"x2":{"field":"i2"},"y2":{"field":"h"}}},
{"data":{"name":"big"},"mark":{"type":"text","align":"left","baseline":"alphabetic","fontSize":41.9,"font":"Liberation Sans","color":"#000000"},"encoding":{"text":{"field":"t"}}},
{"data":{"name":"hdr"},"mark":{"type":"text","align":"left","baseline":"alphabetic","fontSize":11,"font":"Liberation Sans","color":"#ef5f5f"},"encoding":{"text":{"field":"t"}}},
{"data":{"values":[{"i":23,"l":15878.7,"t":"16.11.2023 05:21 - 06:32"},{"i":153,"l":15878.7,"t":"(1 Tag, 1 Minute)"}]},"mark":{"type":"text","align":"left","baseline":"alphabetic","fontSize":11,"font":"Liberation Sans","color":"#555555"},"encoding":{"text":{"field":"t"}}},
{"data":{"name":"tag"},"mark":{"type":"rect","color":"#ef5f5f"},"encoding":{"x2":{"field":"i2"},"y2":{"field":"h"}}},
{"data":{"values":[{"i":1445,"l":15825.35}]},"mark":{"type":"point","shape":"triangle-left","filled":true,"color":"#ef5f5f","size":324,"opacity":1}},
{"data":{"name":"tagt"},"mark":{"type":"text","align":"left","baseline":"alphabetic","fontSize":12.5,"font":"Liberation Sans","color":"#222222"},"encoding":{"text":{"field":"t"}}},
{"data":{"values":[{"i":12,"l":15879.3}]},"mark":{"type":"point","shape":"circle","filled":false,"color":"#444444","size":90,"strokeWidth":1.2,"opacity":1}},
{"data":{"values":[{"i":12,"i2":12,"l":15879.3,"h":15880.2},{"i":12,"i2":15,"l":15879.3,"h":15879.3}]},"mark":{"type":"rule","color":"#444444","strokeWidth":1},"encoding":{"x2":{"field":"i2"},"y2":{"field":"h"}}},
{"data":{"values":[{"i":8,"l":15881,"h":15883},{"i":12,"l":15880.9,"h":15883.4},{"i":16,"l":15881,"h":15882.7}]},"mark":{"type":"rule","color":"#ef5f5f","strokeWidth":2.5},"encoding":{"y2":{"field":"h"}}},
{"data":{"values":[{"i":4,"l":15725.5,"t":"stock"}]},"mark":{"type":"text","align":"left","baseline":"alphabetic","fontSize":50,"font":"Open Sans","fontWeight":600,"color":"#d6d6d6","opacity":0.85},"encoding":{"text":{"field":"t"}}},
{"data":{"values":[{"i":131,"l":15727.4,"t":"3"}]},"mark":{"type":"text","align":"left","baseline":"alphabetic","fontSize":34,"font":"Open Sans","fontWeight":600,"color":"#d6d6d6","opacity":0.85},"encoding":{"text":{"field":"t"}}},
{"data":{"values":[{"i":0,"l":15721.5}]},"mark":{"type":"point","shape":"triangle-up","filled":true,"color":"#c9202a","size":70,"opacity":1}},
{"data":{"values":[{"i":7,"l":15719.9,"t":"DAX live"}]},"mark":{"type":"text","align":"left","baseline":"alphabetic","fontSize":20.5,"font":"Liberation Sans","fontWeight":"bold","fontStyle":"italic","color":"#c9202a"},"encoding":{"text":{"field":"t"}}},
{"data":{"values":[{"i":24,"l":15719,"t":"by Andreas Bernstein"}]},"mark":{"type":"text","align":"left","baseline":"alphabetic","fontSize":6.2,"font":"Liberation Sans","fontWeight":"bold","color":"#333333"},"encoding":{"text":{"field":"t"}}},
{"data":{"values":[{"i":94,"i2":123,"l":15718.9,"h":15723}]},"mark":{"type":"rect","color":"#c9202a","cornerRadius":3},"encoding":{"x2":{"field":"i2"},"y2":{"field":"h"}}},
{"data":{"values":[{"i":98,"i2":119,"l":15719.6,"h":15722.3}]},"mark":{"type":"rect","color":"#ffffff","cornerRadius":1},"encoding":{"x2":{"field":"i2"},"y2":{"field":"h"}}},
{"data":{"values":[{"i":108,"l":15721}]},"mark":{"type":"point","shape":"triangle-right","filled":true,"color":"#c9202a","size":50,"opacity":1}},
{"data":{"values":[{"i":136,"l":15719.9,"t":"JFD"}]},"mark":{"type":"text","align":"left","baseline":"alphabetic","fontSize":33,"font":"Liberation Sans","fontWeight":"bold","color":"#2a3138"},"encoding":{"text":{"field":"t"}}},
{"data":{"values":[{"i":136,"l":15718,"t":"B R O K E R S"}]},"mark":{"type":"text","align":"left","baseline":"alphabetic","fontSize":9.5,"font":"Liberation Sans","color":"#8f8f8f"},"encoding":{"text":{"field":"t"}}}
]}
